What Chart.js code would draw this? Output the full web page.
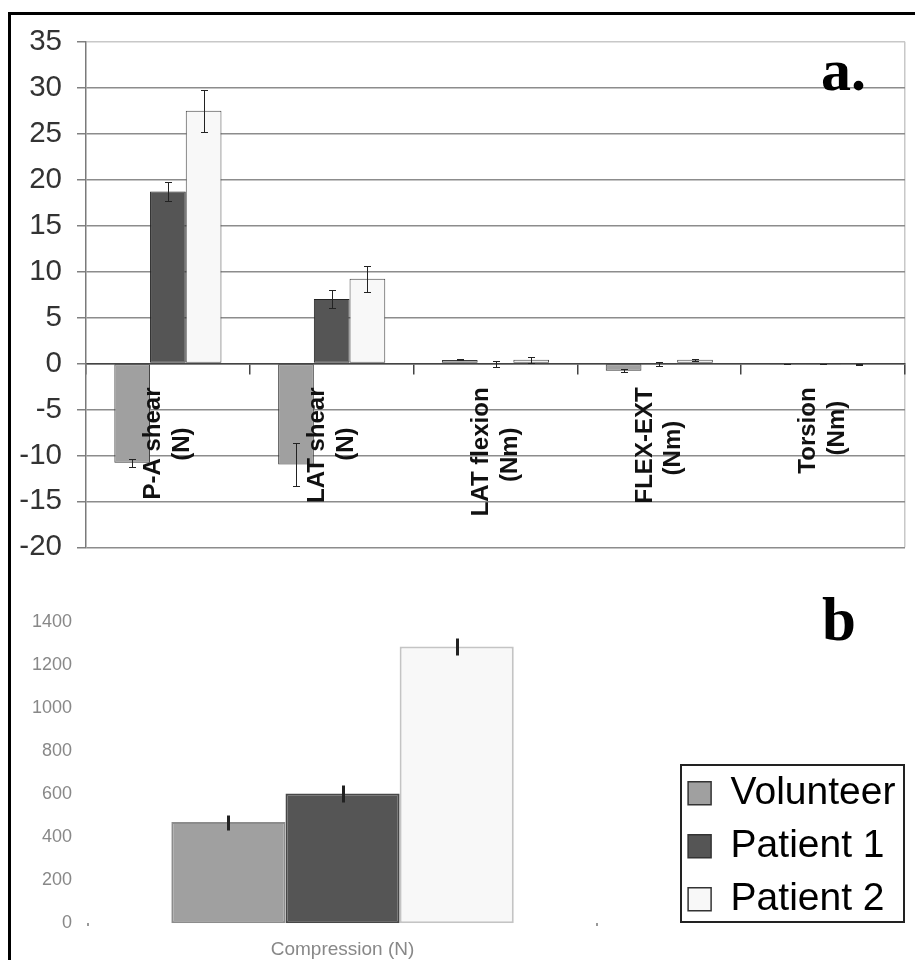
<!DOCTYPE html>
<html>
<head>
<meta charset="utf-8">
<script src="https://cdn.jsdelivr.net/npm/chart.js@4/dist/chart.umd.min.js"></script>
<style>
  html, body { margin: 0; padding: 0; background: #fff; }
  #page { position: relative; width: 915px; height: 960px; overflow: hidden; background: #fff; }
  #boxA { position: absolute; left: 0; top: 0; width: 915px; height: 580px; }
  #boxB { position: absolute; left: 0; top: 580px; width: 915px; height: 380px; }
  .frame { position: absolute; left: 8px; top: 12px; width: 907px; height: 948px;
           border-top: 3px solid #000; border-left: 3px solid #000; box-sizing: border-box; pointer-events: none; }
  .panel { position: absolute; font-family: "Liberation Serif", "Times New Roman", serif;
           font-weight: bold; line-height: 1; color: #000; }
</style>
</head>
<body>
<div id="page">
  <div id="boxA"><canvas id="chartA" width="915" height="580"></canvas></div>
  <div id="boxB"><canvas id="chartB" width="915" height="380"></canvas></div>
  <div class="frame"></div>
  <div class="panel" style="left:821px; top:40px; font-size:60px;">a.</div>
  <div class="panel" style="left:822px; top:589px; font-size:61px;">b</div>
</div>
<script>
// ---- data: panel a (shear forces and moments) ----
const seriesNames = ['Volunteer', 'Patient 1', 'Patient 2'];
const loadCategories = [['P-A shear', '(N)'], ['LAT shear', '(N)'], ['LAT flexion', '(Nm)'], ['FLEX-EXT', '(Nm)'], ['Torsion', '(Nm)']];
const volunteerLoads = [-10.8, -11.0, 0.38, -0.8, -0.05];
const patient1Loads = [18.7, 7.0, -0.07, -0.07, -0.05];
const patient2Loads = [27.5, 9.2, 0.4, 0.4, -0.1];
const volunteerLoadErr = [0.45, 2.3, 0.05, 0.15, 0.03];
const patient1LoadErr = [1.0, 0.95, 0.3, 0.2, 0.03];
const patient2LoadErr = [2.3, 1.4, 0.3, 0.1, 0.06];
const loadAxisMin = -20;
const loadAxisMax = 35;
const loadAxisStep = 5;

// ---- data: panel b (compression) ----
const compressionCategories = ['Compression (N)'];
const volunteerCompression = [470];
const patient1Compression = [603];
const patient2Compression = [1285];
const volunteerCompressionErr = [35];
const patient1CompressionErr = [40];
const patient2CompressionErr = [40];
const compressionAxisMin = 0;
const compressionAxisMax = 1400;
const compressionAxisStep = 200;

// ---- styles ----
const seriesFills = ['#a0a0a0', '#555555', '#f8f8f8'];
Chart.defaults.font.family = '"Liberation Sans", Arial, sans-serif';

// vertical error bars drawn from each bar's value +/- its error through the y scale
const errorBars = {
  id: 'errorBars',
  afterDatasetsDraw(chart, args, opts) {
    const { ctx } = chart;
    const y = chart.scales.y;
    ctx.save();
    ctx.strokeStyle = opts.color;
    ctx.lineWidth = opts.width;
    chart.data.datasets.forEach((ds, i) => {
      const meta = chart.getDatasetMeta(i);
      meta.data.forEach((bar, j) => {
        const v = ds.data[j], e = ds.errors[j];
        const top = Math.round(y.getPixelForValue(v + e)) + 0.5;
        const bot = Math.round(y.getPixelForValue(v - e)) + 0.5;
        const x = Math.round(bar.x) + (opts.width % 2 ? 0.5 : 0);
        ctx.beginPath();
        ctx.moveTo(x, top);
        ctx.lineTo(x, bot);
        if (opts.cap) {
          ctx.moveTo(x - opts.cap, top); ctx.lineTo(x + opts.cap, top);
          ctx.moveTo(x - opts.cap, bot); ctx.lineTo(x + opts.cap, bot);
        }
        ctx.stroke();
      });
    });
    ctx.restore();
  }
};

// thin frame around the legend entries
const legendFrame = {
  id: 'legendFrame',
  afterDraw(chart) {
    const boxes = chart.legend && chart.legend.legendHitBoxes;
    if (!boxes || !boxes.length) return;
    const { ctx } = chart;
    const left = Math.min(...boxes.map(b => b.left)) - 7;
    const right = Math.max(...boxes.map(b => b.left + b.width)) + 9;
    const top = boxes[0].top - 9;
    const last = boxes[boxes.length - 1];
    const bottom = last.top + last.height + 3;
    ctx.save();
    ctx.strokeStyle = '#222';
    ctx.lineWidth = 2;
    ctx.strokeRect(Math.round(left), Math.round(top), Math.round(right - left), Math.round(bottom - top));
    ctx.restore();
  }
};

// centre the two lines of each rotated category label on one another
const categoryFont = { size: 24, weight: 'bold', lineHeight: 1.2 };
const measureCtx = document.createElement('canvas').getContext('2d');
function centredLines(lines) {
  measureCtx.font = 'bold ' + categoryFont.size + 'px "Liberation Sans", Arial, sans-serif';
  const widths = lines.map(l => measureCtx.measureText(l).width);
  const maxW = Math.max(...widths);
  const space = measureCtx.measureText(' ').width;
  return lines.map((l, k) => l + ' '.repeat(Math.round((maxW - widths[k]) / 2 / space)));
}

// ---- panel a ----
new Chart(document.getElementById('chartA'), {
  type: 'bar',
  data: {
    labels: loadCategories,
    datasets: [
      { label: seriesNames[0], data: volunteerLoads, errors: volunteerLoadErr, backgroundColor: seriesFills[0], borderColor: '#3a3a3a' },
      { label: seriesNames[1], data: patient1Loads, errors: patient1LoadErr, backgroundColor: seriesFills[1], borderColor: '#222' },
      { label: seriesNames[2], data: patient2Loads, errors: patient2LoadErr, backgroundColor: seriesFills[2], borderColor: '#444' }
    ]
  },
  options: {
    responsive: false,
    animation: false,
    devicePixelRatio: 1,
    layout: { padding: { top: 41.7, right: 10, bottom: 25, left: 0 } },
    datasets: { bar: { categoryPercentage: 0.654, barPercentage: 1, borderWidth: 1, borderSkipped: false } },
    scales: {
      x: {
        position: { y: 0 },
        offset: true,
        grid: {
          offset: true,
          drawOnChartArea: true,
          color: ctx => ctx.type === 'tick' ? 'rgba(0,0,0,0)' : '#c8c8c8',
          lineWidth: 1.5,
          tickColor: '#444',
          tickWidth: 1.5,
          tickLength: 10
        },
        border: { color: '#444', width: 1.5 },
        ticks: {
          minRotation: 90,
          maxRotation: 90,
          autoSkip: false,
          padding: 14,
          labelOffset: -14.4,
          z: 1,
          color: '#111',
          font: categoryFont,
          callback: (value, index) => centredLines(loadCategories[index])
        },
        afterFit: s => { s.height = 0; }
      },
      y: {
        min: loadAxisMin,
        max: loadAxisMax,
        ticks: { stepSize: loadAxisStep, padding: 15, color: '#333', font: { size: 29.5 } },
        grid: {
          color: ctx => (ctx.tick && ctx.tick.value === loadAxisMax) ? '#c8c8c8' : '#8c8c8c',
          lineWidth: 1.5,
          tickLength: 9,
          tickColor: '#808080',
          tickWidth: 1.5
        },
        border: { color: '#7a7a7a', width: 1.5 },
        afterFit: s => { s.width = 86; }
      }
    },
    plugins: {
      legend: { display: false },
      tooltip: { enabled: false },
      errorBars: { color: '#222', width: 1, cap: 3.5 }
    }
  },
  plugins: [errorBars]
});

// ---- panel b ----
new Chart(document.getElementById('chartB'), {
  type: 'bar',
  data: {
    labels: compressionCategories,
    datasets: [
      { label: seriesNames[0], data: volunteerCompression, errors: volunteerCompressionErr, backgroundColor: seriesFills[0], borderColor: '#8c8c8c' },
      { label: seriesNames[1], data: patient1Compression, errors: patient1CompressionErr, backgroundColor: seriesFills[1], borderColor: '#474747' },
      { label: seriesNames[2], data: patient2Compression, errors: patient2CompressionErr, backgroundColor: seriesFills[2], borderColor: '#c4c4c4' }
    ]
  },
  options: {
    responsive: false,
    animation: false,
    devicePixelRatio: 1,
    layout: { padding: { top: 41.7, right: 9.6, bottom: 27.3, left: 0 } },
    datasets: { bar: { categoryPercentage: 0.6726, barPercentage: 1, borderWidth: 2, borderSkipped: false } },
    scales: {
      x: {
        position: { y: 0 },
        offset: true,
        grid: { offset: true, drawOnChartArea: false, tickLength: 3, color: '#999', lineWidth: 2 },
        border: { display: false },
        ticks: { padding: 12.3, color: '#888', font: { size: 19 }, maxRotation: 0, minRotation: 0 },
        afterFit: s => { s.height = 0; }
      },
      // empty strip under the plot that keeps room for the category label
      below: {
        type: 'linear',
        position: 'bottom',
        grid: { display: false, drawTicks: false },
        border: { display: false },
        ticks: { display: false },
        afterFit: s => { s.height = 9.4; }
      },
      y: {
        min: compressionAxisMin,
        max: compressionAxisMax,
        ticks: { stepSize: compressionAxisStep, padding: 16, color: '#888', font: { size: 18 }, callback: v => String(v) },
        grid: { display: false, drawTicks: false },
        border: { display: false },
        afterFit: s => { s.width = 88; }
      },
      gap: {
        type: 'linear',
        position: 'right',
        grid: { display: false, drawTicks: false },
        border: { display: false },
        ticks: { display: false },
        afterFit: s => { s.width = 77; }
      }
    },
    plugins: {
      legend: {
        position: 'right',
        align: 'end',
        maxWidth: 240,
        labels: {
          font: { size: 39 },
          color: '#000',
          boxWidth: 23,
          boxHeight: 23,
          padding: 14,
          generateLabels(chart) {
            return Chart.defaults.plugins.legend.labels.generateLabels(chart)
              .map(item => Object.assign(item, { strokeStyle: '#333', lineWidth: 1.5 }));
          }
        }
      },
      tooltip: { enabled: false },
      errorBars: { color: '#222', width: 3, cap: 0 }
    }
  },
  plugins: [errorBars, legendFrame]
});
</script>
</body>
</html>
